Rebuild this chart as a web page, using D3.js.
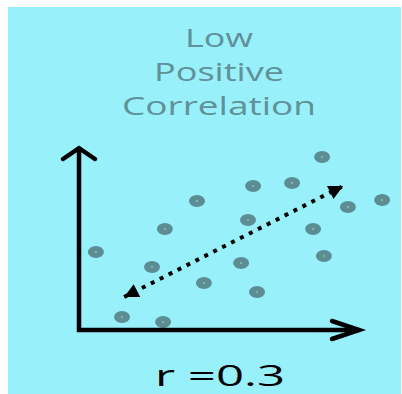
<!DOCTYPE html>
<html>
<head>
<meta charset="utf-8">
<script src="https://cdn.jsdelivr.net/npm/d3@7"></script>
<style>
  body { margin: 0; background: #fff; }
  svg { display: block; }
</style>
</head>
<body>
<div class="chart"></div>
<script>
// values
const titleLines = ["Low", "Positive", "Correlation"];
const rLabel = "r =0.3";
const xs = [8.07, 5.77, 7.07, 3.9, 8.93, 10.07, 5.6, 2.83, 7.77, 0.53, 8.13, 2.4, 5.37, 4.13, 5.9, 1.4, 2.77];
const ys = [9.61, 8.0, 8.17, 7.17, 6.83, 7.22, 6.11, 5.61, 5.61, 4.33, 4.11, 3.5, 3.72, 2.61, 2.11, 0.72, 0.44];
const trendX = [1.47, 8.77];
const trendY = [1.83, 8.0];

const points = xs.map((x, i) => ({x: x, y: ys[i]}));

const svg = d3.select(".chart")
    .append("svg")
        .attr("width", 402)
        .attr("height", 394);

const defs = svg.append("defs");
defs.append("filter")
    .attr("id", "soft")
    .attr("x", "-50%").attr("y", "-50%")
    .attr("width", "200%").attr("height", "200%")
    .append("feGaussianBlur")
        .attr("stdDeviation", 0.7);

const head = (id, flip) => {
    defs.append("marker")
        .attr("id", id)
        .attr("viewBox", "0 0 10 10")
        .attr("refX", flip ? 0 : 10)
        .attr("refY", 5)
        .attr("markerWidth", 4.4)
        .attr("markerHeight", 3.6)
        .attr("markerUnits", "strokeWidth")
        .attr("orient", "auto")
        .append("path")
            .attr("d", flip ? "M10,0 L0,5 L10,10 Z" : "M0,0 L10,5 L0,10 Z")
            .attr("fill", "#000");
};
head("tip-end", false);
head("tip-start", true);

// background panel
svg.append("rect")
    .attr("x", 8)
    .attr("y", 7)
    .attr("width", 393)
    .attr("height", 387)
    .attr("fill", "#98f0fb");

const xScale = d3.scaleLinear()
    .domain([0, 10])
    .range([80, 380]);

const yScale = d3.scaleLinear()
    .domain([0, 10])
    .range([330, 150]);

// title, glyphs look stretched sideways
const titleBase = [47, 81, 115];
const titleWidth = [68, 130, 194];
svg.selectAll(".title")
    .data(titleLines)
    .join("text")
    .attr("class", "title")
    .attr("x", (d, i) => 219 - titleWidth[i] / 2)
    .attr("y", (d, i) => titleBase[i])
    .attr("textLength", (d, i) => titleWidth[i])
    .attr("lengthAdjust", "spacingAndGlyphs")
    .attr("font-family", "Open Sans, sans-serif")
    .attr("font-size", 26)
    .attr("fill", "#5f9197")
    .text(d => d);

// points
svg.selectAll(".dot")
    .data(points)
    .join("ellipse")
    .attr("class", "dot")
    .attr("cx", d => xScale(d.x))
    .attr("cy", d => yScale(d.y))
    .attr("rx", 8)
    .attr("ry", 6)
    .attr("fill", "#5b8d93")
    .attr("filter", "url(#soft)");

svg.selectAll(".dot-c")
    .data(points)
    .join("circle")
    .attr("class", "dot-c")
    .attr("cx", d => xScale(d.x))
    .attr("cy", d => yScale(d.y))
    .attr("r", 1.1)
    .attr("fill", "#8fb7ba");

// axes as arrows
const axisPath = d3.line()([
    [xScale(0) - 1, yScale(10.17)],
    [xScale(0) - 1, yScale(0)],
    [xScale(9.3), yScale(0)]
]);
svg.append("path")
    .attr("d", axisPath)
    .attr("fill", "none")
    .attr("stroke", "#000")
    .attr("stroke-width", 4.5)
    .attr("stroke-linejoin", "miter");

svg.append("path")
    .attr("d", d3.line()([
        [xScale(0) - 17, yScale(9.5)],
        [xScale(0) - 1, yScale(10.1)],
        [xScale(0) + 15, yScale(9.5)]
    ]))
    .attr("fill", "none")
    .attr("stroke", "#000")
    .attr("stroke-width", 4.5)
    .attr("stroke-linecap", "round");

svg.append("path")
    .attr("d", d3.line()([
        [xScale(8.4), yScale(0.5)],
        [xScale(9.3), yScale(0)],
        [xScale(8.4), yScale(-0.5)]
    ]))
    .attr("fill", "none")
    .attr("stroke", "#000")
    .attr("stroke-width", 4.5)
    .attr("stroke-linecap", "round");

// dotted double arrow
svg.append("line")
    .attr("x1", xScale(trendX[0]))
    .attr("y1", yScale(trendY[0]))
    .attr("x2", xScale(trendX[1]))
    .attr("y2", yScale(trendY[1]))
    .attr("stroke", "#000")
    .attr("stroke-width", 4)
    .attr("stroke-dasharray", "4,6")
    .attr("marker-start", "url(#tip-start)")
    .attr("marker-end", "url(#tip-end)");

// r value
svg.append("text")
    .attr("x", 155)
    .attr("y", 386)
    .attr("textLength", 130)
    .attr("lengthAdjust", "spacingAndGlyphs")
    .attr("font-family", "Open Sans, sans-serif")
    .attr("font-size", 30)
    .attr("fill", "#000")
    .text(rLabel);
</script>
</body>
</html>
